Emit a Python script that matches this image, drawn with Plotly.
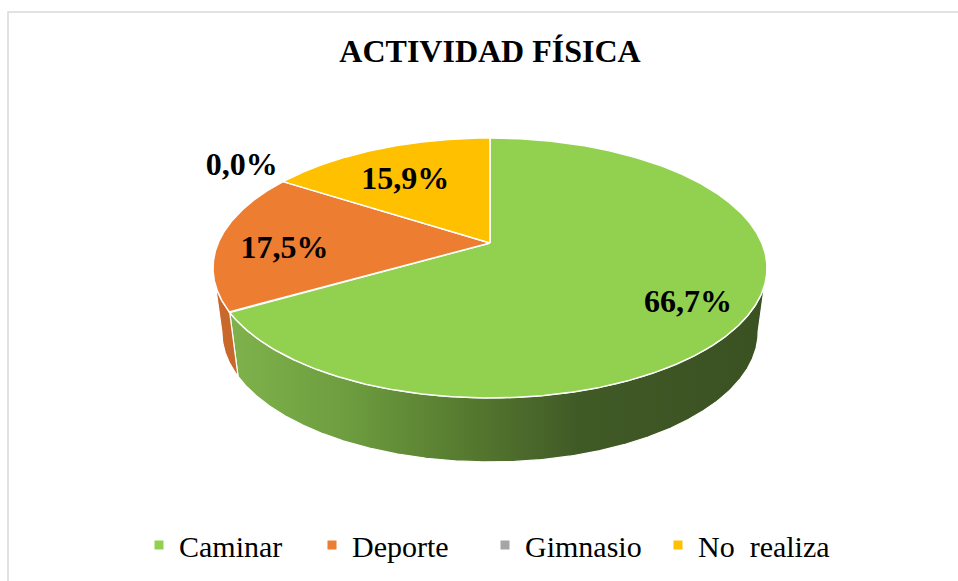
import numpy as np
import plotly.graph_objects as go

# ---------------- data ----------------
categories = ["Caminar", "Deporte", "Gimnasio", "No\u00a0 realiza"]
values = [66.7, 17.5, 0.0, 15.9]
top_colors = ["#92d050", "#ed7d31", "#a5a5a5", "#ffc000"]
side_colors = ["#5f8a34", "#c9682b", "#7f7f7f", "#c99700"]
chart_title = "ACTIVIDAD FÍSICA"

# ---------------- geometry (pixels) ----------------
W, H = 958, 581
CX, CY = 490.0, 268.0      # centre of the top ellipse
RX, RY = 277.0, 130.0      # radii of the top ellipse
VX, VY = 490.0, 243.0      # projected pie centre (perspective)
K = 0.46                   # tilt ratio for slice directions
DEPTH = 64.0               # thickness of the pie
SBX = 0.968                # horizontal shrink of the bottom rim
SERIF = "Liberation Serif, Times New Roman, serif"


def rim(theta_deg):
    th = np.radians(np.asarray(theta_deg, dtype=float))
    dx, dy = np.sin(th), -K * np.cos(th)
    ox, oy = VX - CX, VY - CY
    a = (dx / RX) ** 2 + (dy / RY) ** 2
    b = 2 * (ox * dx / RX ** 2 + oy * dy / RY ** 2)
    c = (ox / RX) ** 2 + (oy / RY) ** 2 - 1
    t = (-b + np.sqrt(b * b - 4 * a * c)) / (2 * a)
    return VX + t * dx, VY + t * dy


total = sum(values)
bounds = []
acc = 0.0
for v in values:
    a0 = acc / total * 360.0
    acc += v
    a1 = acc / total * 360.0
    bounds.append((a0, a1))

fig = go.Figure()

side_gradients = {
    0: [[0, "#7fb24c"], [0.22, "#6d9d3f"], [0.45, "#55782f"],
        [0.65, "#405a26"], [1, "#3a5122"]],
}

# side walls (front half only)
for i, (cat, v) in enumerate(zip(categories, values)):
    a0, a1 = bounds[i]
    if v <= 0:
        continue
    n = max(3, int((a1 - a0) * 4))
    th = np.linspace(a0, a1, n)
    x, y = rim(th)
    mask = y >= CY - 0.5
    if mask.sum() < 2:
        continue
    xt, yt = x[mask], y[mask]
    xb = CX + (xt - CX) * SBX
    yb = yt + DEPTH
    xs = np.concatenate([xt, xb[::-1], xt[:1]])
    ys = np.concatenate([yt, yb[::-1], yt[:1]])
    kw = {}
    if i in side_gradients:
        kw["fillgradient"] = dict(type="horizontal", colorscale=side_gradients[i])
    fig.add_trace(go.Scatter(
        x=xs, y=ys, mode="lines", fill="toself",
        fillcolor=side_colors[i], line=dict(color="white", width=1.2),
        showlegend=False, hoverinfo="skip", **kw))

# top faces
for i, (cat, v) in enumerate(zip(categories, values)):
    a0, a1 = bounds[i]
    if v <= 0:
        continue
    n = max(3, int((a1 - a0) * 4))
    th = np.linspace(a0, a1, n)
    x, y = rim(th)
    xs = np.concatenate([[VX], x, [VX]])
    ys = np.concatenate([[VY], y, [VY]])
    fig.add_trace(go.Scatter(
        x=xs, y=ys, mode="lines", fill="toself",
        fillcolor=top_colors[i], line=dict(color="white", width=1.5),
        showlegend=False, hoverinfo="skip"))

# data labels
lx, ly, lt = [], [], []
for i, v in enumerate(values):
    a0, a1 = bounds[i]
    mid = (a0 + a1) / 2
    rx_, ry_ = rim(mid)
    f = 0.76 if v > 0 else 1.2
    lx.append(CX + f * (float(rx_) - CX))
    ly.append(CY + f * (float(ry_) - CY) + 3)
    lt.append(f"{v:.1f}".replace(".", ",") + "%")
fig.add_trace(go.Scatter(
    x=lx, y=ly, mode="text", text=lt, textposition="middle center",
    textfont=dict(family=SERIF, size=32, color="black", weight="bold"),
    showlegend=False, hoverinfo="skip"))

# legend entries
for cat, col in zip(categories, top_colors):
    fig.add_trace(go.Scatter(
        x=[None], y=[None], mode="markers", name=cat,
        marker=dict(symbol="square", size=9, color=col)))

fig.update_layout(
    width=W, height=H,
    margin=dict(l=0, r=0, t=0, b=0, pad=0),
    paper_bgcolor="white", plot_bgcolor="white",
    xaxis=dict(range=[0, W], visible=False, fixedrange=True),
    yaxis=dict(range=[H, 0], visible=False, fixedrange=True),
    title=dict(text="<b>" + chart_title + "</b>", x=490 / W, xanchor="center",
               y=1 - 51 / H, yanchor="middle",
               font=dict(family=SERIF, size=32, color="black")),
    legend=dict(orientation="h", x=139 / W, xanchor="left",
                y=1 - 545 / H, yanchor="middle",
                font=dict(family=SERIF, size=30, color="black"),
                entrywidth=128, itemwidth=30, bgcolor="rgba(0,0,0,0)",
                traceorder="normal"),
    hovermode=False,
    shapes=[dict(type="rect", xref="x", yref="y", x0=8, y0=12, x1=1000, y1=620,
                 line=dict(color="#d9d9d9", width=1.5), layer="below")],
)

fig.write_html("out.html",
               config={"displayModeBar": False, "staticPlot": True},
               post_script="document.body.style.margin='0px';"
                           "document.body.style.overflow='hidden';")
